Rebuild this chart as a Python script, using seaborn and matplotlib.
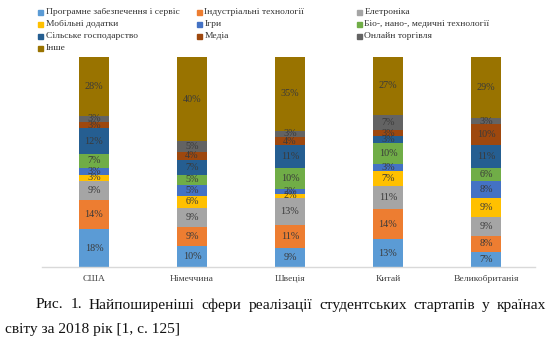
import numpy as np
import pandas as pd
import matplotlib
matplotlib.use("Agg")
import matplotlib.pyplot as plt
import seaborn as sns

countries = ["США", "Німеччина", "Швеція", "Китай", "Великобританія"]
sectors = [
    "Програмне забезпечення і сервіс",
    "Індустріальні технології",
    "Елетроніка",
    "Мобільні додатки",
    "Ігри",
    "Біо-, нано-, медичні технології",
    "Сільське господарство",
    "Медіа",
    "Онлайн торгівля",
    "Інше",
]
software = [18, 10, 9, 13, 7]
industrial = [14, 9, 11, 14, 8]
electronics = [9, 9, 13, 11, 9]
mobile = [3, 6, 2, 7, 9]
games = [3, 5, 2, 3, 8]
bio = [7, 5, 10, 10, 6]
agriculture = [12, 7, 11, 3, 11]
media = [3, 4, 4, 3, 10]
online = [3, 5, 3, 7, 3]
other = [28, 40, 35, 27, 29]

colors = ["#5B9BD5", "#ED7D31", "#A5A5A5", "#FFC000", "#4472C4",
          "#70AD47", "#255E91", "#9E480E", "#636363", "#997300"]

caption_line1 = "Рис. 1. Найпоширеніші сфери реалізації студентських стартапів у країнах"
caption_line2 = "світу за 2018 рік [1, с. 125]"

series = [software, industrial, electronics, mobile, games,
          bio, agriculture, media, online, other]
vals = np.array(series, dtype=float)           # sectors x countries
shares = vals / vals.sum(axis=0) * 100          # 100% stacked
tops = np.cumsum(shares, axis=0)
bottoms = tops - shares

sns.set_style("white")
serif = ["Liberation Serif", "DejaVu Serif"]
plt.rcParams["font.family"] = serif

W, H = 555, 345
fig = plt.figure(figsize=(W / 100, H / 100), dpi=100)
ax = fig.add_axes([42 / W, 1 - 267 / H, 493 / W, 210 / H])

# draw from the top of the stack down so each lower segment overlays the next
for i in range(len(sectors) - 1, -1, -1):
    df = pd.DataFrame({"country": countries, "top": tops[i]})
    sns.barplot(data=df, x="country", y="top", color=colors[i],
                saturation=1, width=0.31, ax=ax, linewidth=0,
                order=countries)

for i in range(len(sectors)):
    for j in range(len(countries)):
        ax.text(j, (bottoms[i, j] + tops[i, j]) / 2, f"{int(vals[i, j])}%",
                ha="center", va="center", fontsize=7.3, color="#3a3a3a")

ax.set_xlim(-0.53, 4.5)
ax.set_ylim(0, 100)
ax.set_xlabel("")
ax.set_ylabel("")
ax.set_yticks([])
ax.tick_params(axis="x", length=0, labelsize=6.8, colors="#404040", pad=6)
for s in ["left", "right", "top"]:
    ax.spines[s].set_visible(False)
ax.spines["bottom"].set_color("#D9D9D9")
ax.spines["bottom"].set_linewidth(1)

# legend in three columns, row-major order
col_x = [38, 197, 357]
row_y = [12, 24, 36, 48]
for k, name in enumerate(sectors):
    r, c = divmod(k, 3)
    fx = col_x[c] / W
    fy = 1 - row_y[r] / H
    fig.patches.append(plt.Rectangle((fx, fy - 2.5 / H), 5 / W, 5 / H,
                                     transform=fig.transFigure,
                                     color=colors[k], figure=fig))
    fig.text(fx + 7.5 / W, fy, name, fontsize=6.8, va="center", ha="left",
             color="#333333")

# caption: first line justified between two margins
cap_size = 11.1
renderer = fig.canvas.get_renderer()
words = caption_line1.split(" ")
widths = []
for w in words:
    t = fig.text(0, 0, w, fontsize=cap_size)
    widths.append(t.get_window_extent(renderer).width)
    t.remove()
left, right = 36, 546
gap = (right - left - sum(widths)) / (len(words) - 1)
x = left
for w, wd in zip(words, widths):
    fig.text(x / W, 1 - 305 / H, w, fontsize=cap_size, va="center",
             ha="left", color="#111111")
    x += wd + gap
fig.text(5 / W, 1 - 330 / H, caption_line2,
         fontsize=cap_size, va="center", ha="left", color="#111111")

fig.savefig("out.png", dpi=100)
